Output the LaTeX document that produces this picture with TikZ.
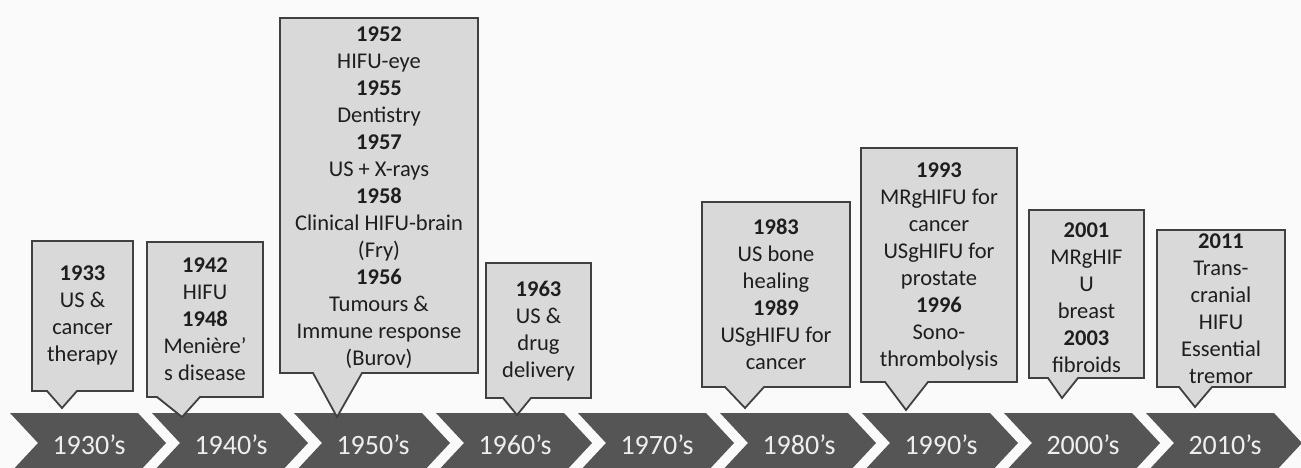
\documentclass[tikz,border=0pt]{standalone}
\usepackage{fontspec}
\setmainfont{Carlito}
\definecolor{BackClr}{RGB}{250,250,250}
\definecolor{ArrowClr}{RGB}{85,85,85}
\definecolor{DecadeClr}{RGB}{238,238,238}
\definecolor{BoxClr}{RGB}{217,217,217}
\definecolor{BoxLine}{RGB}{64,64,64}
\definecolor{NoteClr}{RGB}{30,30,30}

\begin{document}
\begin{tikzpicture}[x=1pt,y=-1pt,
  callout/.style={fill=BoxClr,draw=BoxLine,line width=1.8pt,line join=miter},
  note/.style={align=center,text=NoteClr,inner sep=0pt,font=\fontsize{22.5}{27}\selectfont},
  decade/.style={text=DecadeClr,inner sep=0pt,font=\fontsize{28}{30}\selectfont}]

\fill[BackClr] (0,0) rectangle (1301,468);
\useasboundingbox (0,0) rectangle (1301,468);

% decade chevrons
\foreach \d [count=\i from 0] in {1930,1940,...,2010}{
  \pgfmathsetmacro{\xo}{10+142*\i}
  \fill[ArrowClr] (\xo,413) -- ++(128,0) -- ++(28,30) -- ++(-28,30) -- ++(-128,0) -- ++(28,-30) -- cycle;
  \node[decade] (d\d) at (\xo+79,445) {\d’s};
}

% callouts
\draw[callout] (32,241) -- (133,241) -- (133,391) -- (77,391) -- (62,408) -- (47,391) -- (32,391) -- cycle;
\draw[callout] (147,242) -- (263,242) -- (263,397) -- (200,397) -- (182,417) -- (157,397) -- (147,397) -- cycle;
\draw[callout] (280,18) -- (478,18) -- (478,373) -- (362,373) -- (337,417) -- (313,373) -- (280,373) -- cycle;
\draw[callout] (486,263) -- (591,263) -- (591,398) -- (531,398) -- (517,415) -- (503,398) -- (486,398) -- cycle;
\draw[callout] (702,202) -- (850,202) -- (850,387) -- (764,387) -- (745,408) -- (725,387) -- (702,387) -- cycle;
\draw[callout] (861,148) -- (1017,148) -- (1017,382) -- (928,382) -- (906,410) -- (885,382) -- (861,382) -- cycle;
\draw[callout] (1029,210) -- (1144,210) -- (1144,378) -- (1078,378) -- (1062,398) -- (1048,378) -- (1029,378) -- cycle;
\draw[callout] (1157,230) -- (1285,230) -- (1285,387) -- (1212,387) -- (1195,407) -- (1179,387) -- (1157,387) -- cycle;

\node[note] (n1933) at (82.5,315) {\textbf{1933}\\US \&\\cancer\\therapy};
\node[note] (n1942) at (205,319) {\textbf{1942}\\HIFU\\\textbf{1948}\\Menière’\\s disease};
\node[note] (n1952) at (379,197.5) {\textbf{1952}\\HIFU-eye\\\textbf{1955}\\Dentistry\\\textbf{1957}\\US + X-rays\\\textbf{1958}\\Clinical HIFU-brain\\(Fry)\\\textbf{1956}\\Tumours \&\\Immune response\\(Burov)};
\node[note] (n1963) at (538.5,331) {\textbf{1963}\\US \&\\drug\\delivery};
\node[note] (n1983) at (776,294.5) {\textbf{1983}\\US bone\\healing\\\textbf{1989}\\USgHIFU for\\cancer};
\node[note] (n1993) at (939,266) {\textbf{1993}\\MRgHIFU for\\cancer\\USgHIFU for\\prostate\\\textbf{1996}\\Sono-\\thrombolysis};
\node[note] (n2001) at (1086.5,297.5) {\textbf{2001}\\MRgHIF\\U\\breast\\\textbf{2003}\\fibroids};
\node[note] (n2011) at (1221,308.5) {\textbf{2011}\\Trans-\\cranial\\HIFU\\Essential\\tremor};

\end{tikzpicture}
\end{document}
